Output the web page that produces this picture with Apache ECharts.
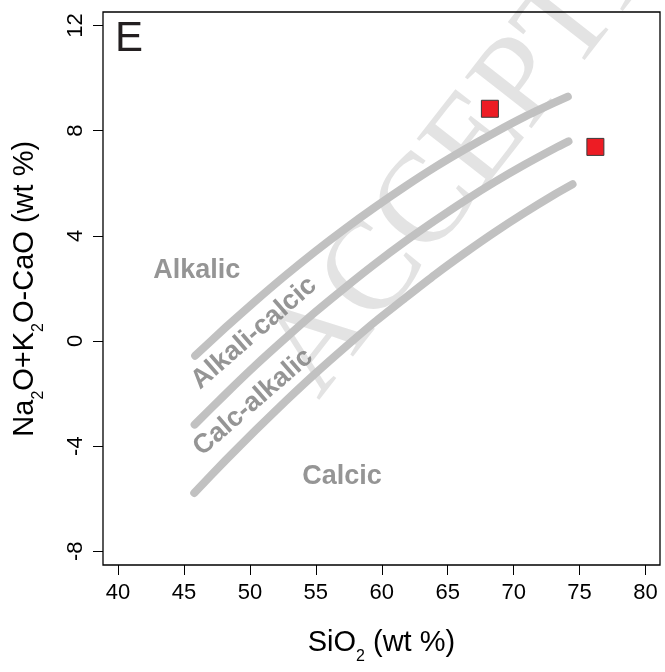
<!DOCTYPE html>
<html><head><meta charset="utf-8">
<script src="https://cdn.jsdelivr.net/npm/echarts@6/dist/echarts.min.js"></script>
<style>html,body{margin:0;padding:0;background:#fff}#c{width:665px;height:672px}</style>
</head><body><div id="c"></div>
<script>
// ---- data ----
const xTicks = [40, 45, 50, 55, 60, 65, 70, 75, 80];
const yTicks = [-8, -4, 0, 4, 8, 12];
const alkalicBoundary = [[45.85,-0.56],[48.13,0.50],[50.40,1.51],[52.67,2.48],[54.94,3.40],[57.22,4.27],[59.49,5.09],[61.76,5.87],[64.04,6.61],[66.31,7.29],[68.58,7.93],[70.85,8.53],[73.13,9.07],[74.11,9.29]];
const alkaliCalcicBoundary = [[45.81,-3.18],[48.13,-2.03],[50.40,-0.94],[52.67,0.09],[54.94,1.09],[57.22,2.03],[59.49,2.93],[61.76,3.78],[64.04,4.58],[66.31,5.34],[68.58,6.05],[70.85,6.71],[73.13,7.33],[74.16,7.59]];
const calcAlkalicBoundary = [[45.78,-5.78],[48.13,-4.55],[50.40,-3.41],[52.67,-2.31],[54.94,-1.25],[57.22,-0.24],[59.49,0.73],[61.76,1.63],[64.04,2.52],[66.31,3.35],[68.58,4.14],[70.85,4.88],[73.13,5.58],[74.47,5.96]];
const samples = [[68.2, 8.83], [76.2, 7.38]];
const fieldNames = ['Alkalic', 'Alkali-calcic', 'Calc-alkalic', 'Calcic'];
const fieldPos = [[45.97, 2.67], [50.32, 0.30], [50.25, -2.33], [56.99, -5.15]];
const panelLetter = 'E';
const watermark = 'ACCEPTED MANUSCRIPT';
const xTitle = [['SiO', 0], ['2', 1], [' (wt %)', 0]];
const yTitle = [['Na', 0], ['2', 1], ['O+K', 0], ['2', 1], ['O-CaO (wt %)', 0]];

// ---- styles ----
const FONT = '"Liberation Sans", Arial, Helvetica, sans-serif';
const fieldRot = [0, 41, 41, 0];
const curveStyle = { color: '#c1c1c1', width: 8, cap: 'round', join: 'round' };

const ctx = document.createElement('canvas').getContext('2d');
function titlePieces(pieces, size, subSize, drop) {
  let x = 0; const children = [];
  pieces.forEach(p => {
    const s = p[1] ? subSize : size;
    const font = s + 'px ' + FONT;
    ctx.font = font;
    const w = ctx.measureText(p[0]).width;
    children.push({ type: 'text', x: x, y: (p[1] ? drop : 0) - 0.33 * s,
      style: { text: p[0], font: font, fill: '#000', align: 'left', verticalAlign: 'middle' } });
    x += w;
  });
  return { children, width: x };
}
const xt = titlePieces(xTitle, 29, 16, 8.5);
const yt = titlePieces(yTitle, 29, 16, 8.5);

const chart = echarts.init(document.getElementById('c'), null, { renderer: 'canvas' });
const lineSeries = (name, data) => ({
  type: 'line', name, data, smooth: 0.2, showSymbol: false, symbol: 'none',
  lineStyle: curveStyle, z: 2, silent: true
});
chart.setOption({
  animation: false,
  backgroundColor: '#fff',
  grid: { left: 103, top: 12, right: 5, bottom: 107, show: true, borderColor: '#000', borderWidth: 1.3, backgroundColor: 'transparent' },
  xAxis: {
    type: 'value', min: 38.86, max: 81.1,
    axisLine: { show: false, onZero: false }, splitLine: { show: false },
    axisTick: { show: true, length: 10, customValues: xTicks, lineStyle: { color: '#000', width: 1 } },
    axisLabel: { show: true, customValues: xTicks, margin: 17, fontSize: 22, fontFamily: FONT, color: '#000' }
  },
  yAxis: {
    type: 'value', min: -8.52, max: 12.51,
    axisLine: { show: false, onZero: false }, splitLine: { show: false },
    axisTick: { show: true, length: 10, customValues: yTicks, lineStyle: { color: '#000', width: 1 } },
    axisLabel: { show: true, customValues: yTicks, rotate: 90, margin: 16, fontSize: 22, fontFamily: FONT, color: '#000' }
  },
  graphic: [
    { type: 'text', x: 292, y: 380, rotation: 52 * Math.PI / 180, z: -5, silent: true,
      style: { text: watermark, font: '128px "Liberation Serif", "Times New Roman", serif', fill: '#e3e3e3', align: 'left', verticalAlign: 'middle' } },
    { type: 'text', x: 115, y: 53.3 - 0.33 * 42, z: 10,
      style: { text: panelLetter, font: '42px ' + FONT, fill: '#231f20', align: 'left', verticalAlign: 'middle' } },
    { type: 'group', x: 381.4 - xt.width / 2, y: 653, children: xt.children },
    { type: 'group', x: 35, y: 288.8 + yt.width / 2, rotation: Math.PI / 2, children: yt.children }
  ],
  series: [
    lineSeries('alkalic', alkalicBoundary),
    lineSeries('alkali-calcic', alkaliCalcicBoundary),
    lineSeries('calc-alkalic', calcAlkalicBoundary),
    {
      type: 'scatter', name: 'fields', symbolSize: 0, z: 3, silent: true,
      data: fieldNames.map((n, i) => ({ value: fieldPos[i], name: n, label: { rotate: fieldRot[i] } })),
      label: { show: true, position: 'inside', formatter: '{b}', fontSize: 27, fontWeight: 'bold', fontFamily: FONT, color: '#7b7b7b' }
    },
    {
      type: 'scatter', name: 'samples', data: samples, symbol: 'rect', symbolSize: 17, z: 4,
      itemStyle: { color: '#ed1c24', borderColor: '#3a3a3a', borderWidth: 1, opacity: 1 }
    }
  ]
});
</script></body></html>
